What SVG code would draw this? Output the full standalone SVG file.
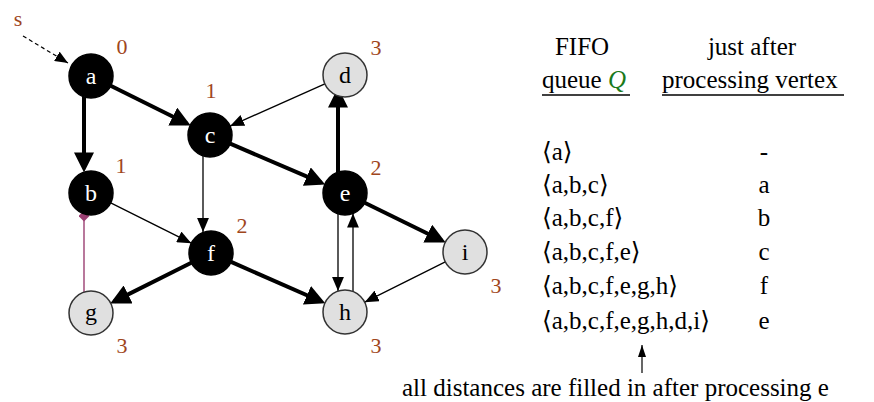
<svg xmlns="http://www.w3.org/2000/svg" width="874" height="402" viewBox="0 0 874 402">
<style>
.nb circle{fill:#000;stroke:#000;stroke-width:1.5}
.ng circle{fill:#e0e0e0;stroke:#333;stroke-width:1.5}
.nb text{fill:#fff;font-size:24px;text-anchor:middle}
.ng text{fill:#000;font-size:24px;text-anchor:middle}
.dist{fill:#a0461c;font-size:22px;text-anchor:middle}
.thick{stroke:#000;stroke-width:4;fill:none;marker-end:url(#ah)}
.thin{stroke:#000;stroke-width:1.3;fill:none;marker-end:url(#at)}
.tbl{font-size:25px;fill:#000}
</style>
<defs>
<marker id="ah" markerUnits="userSpaceOnUse" markerWidth="20" markerHeight="20" viewBox="0 0 18 18" refX="14" refY="9" orient="auto"><path d="M0,0 L18,9 L0,18 z" fill="#000"/></marker>
<marker id="at" markerUnits="userSpaceOnUse" markerWidth="14" markerHeight="12" viewBox="0 0 13 11" refX="13" refY="5.5" orient="auto"><path d="M0,0 L13,5.5 L0,11 z" fill="#000"/></marker>
<marker id="as" markerUnits="userSpaceOnUse" markerWidth="13" markerHeight="11" viewBox="0 0 12 10" refX="12" refY="5" orient="auto"><path d="M0,0 L12,5 L0,10 z" fill="#000"/></marker>
<marker id="dm" markerUnits="userSpaceOnUse" markerWidth="11" markerHeight="11" viewBox="0 0 10 10" refX="5" refY="5" orient="auto"><path d="M5,0 L10,5 L5,10 L0,5 z" fill="#9b3f72"/></marker>
<marker id="au" markerUnits="userSpaceOnUse" markerWidth="12" markerHeight="8" viewBox="0 0 12 8" refX="12" refY="4" orient="auto"><path d="M0,0 L12,4 L0,8 z" fill="#000"/></marker>
</defs>

<g id="connectors">
<line x1="23" y1="36" x2="68" y2="63" stroke="#000" stroke-width="1.2" stroke-dasharray="4,3" marker-end="url(#as)"/>
<line class="thick" x1="110.7" y1="85.8" x2="186.7" y2="123.5"/>
<line class="thick" x1="84" y1="97" x2="84" y2="168"/>
<line class="thick" x1="230.2" y1="143.7" x2="321.1" y2="182.7"/>
<line class="thick" x1="338" y1="172" x2="338" y2="92"/>
<line class="thick" x1="364.7" y1="202.7" x2="441.7" y2="240.5"/>
<line class="thick" x1="231.1" y1="261.9" x2="321.2" y2="301.5"/>
<line class="thick" x1="191.3" y1="262.8" x2="114.2" y2="301.4"/>
<line class="thin" x1="110.7" y1="202.8" x2="191.3" y2="243.2"/>
<line class="thin" x1="324.9" y1="83.9" x2="230.1" y2="126.1"/>
<line class="thin" x1="203" y1="156" x2="203" y2="232"/>
<line class="thin" x1="338" y1="214" x2="338" y2="291"/>
<line class="thin" x1="353" y1="291.5" x2="353" y2="213.5"/>
<line class="thin" x1="445.3" y1="261.8" x2="364.7" y2="302.2"/>
<line x1="84" y1="292" x2="84" y2="216" stroke="#9b3f72" stroke-width="1.4" marker-end="url(#dm)"/>
</g>

<g font-family="Liberation Serif, Times New Roman, DejaVu Serif, serif">
<text x="18" y="26" class="dist">s</text>

<g id="node-a" class="nb"><circle cx="91" cy="76" r="22"/><text x="91" y="84">a</text></g>
<g id="node-b" class="nb"><circle cx="91" cy="193" r="22"/><text x="91" y="201">b</text></g>
<g id="node-c" class="nb"><circle cx="210" cy="135" r="22"/><text x="210" y="143">c</text></g>
<g id="node-d" class="ng"><circle cx="345" cy="75" r="22"/><text x="345" y="83">d</text></g>
<g id="node-e" class="nb"><circle cx="345" cy="193" r="22"/><text x="345" y="201">e</text></g>
<g id="node-f" class="nb"><circle cx="211" cy="253" r="22"/><text x="211" y="261">f</text></g>
<g id="node-g" class="ng"><circle cx="91" cy="313" r="22"/><text x="91" y="320">g</text></g>
<g id="node-h" class="ng"><circle cx="345" cy="312" r="22"/><text x="345" y="320">h</text></g>
<g id="node-i" class="ng"><circle cx="465" cy="252" r="22"/><text x="465" y="260">i</text></g>

<g id="distances">
<text x="122" y="54" class="dist">0</text>
<text x="211" y="98" class="dist">1</text>
<text x="121" y="173" class="dist">1</text>
<text x="242" y="233" class="dist">2</text>
<text x="122" y="353" class="dist">3</text>
<text x="376" y="55" class="dist">3</text>
<text x="376" y="175" class="dist">2</text>
<text x="496" y="293" class="dist">3</text>
<text x="376" y="353" class="dist">3</text>
</g>

<g id="table">
<text x="582" y="55" class="tbl" text-anchor="middle">FIFO</text>
<text x="752" y="55" class="tbl" text-anchor="middle">just after</text>
<text x="542" y="88" class="tbl">queue <tspan fill="#1a7a1a" font-style="italic">Q</tspan></text>
<line x1="542" y1="95" x2="630" y2="95" stroke="#000" stroke-width="1.3"/>
<text x="662" y="88" class="tbl">processing vertex</text>
<line x1="662" y1="95" x2="844" y2="95" stroke="#000" stroke-width="1.3"/>
<text x="542" y="160" class="tbl">⟨a⟩</text>
<text x="542" y="193" class="tbl">⟨a,b,c⟩</text>
<text x="542" y="226" class="tbl">⟨a,b,c,f⟩</text>
<text x="542" y="260" class="tbl">⟨a,b,c,f,e⟩</text>
<text x="542" y="294" class="tbl">⟨a,b,c,f,e,g,h⟩</text>
<text x="542" y="329" class="tbl">⟨a,b,c,f,e,g,h,d,i⟩</text>
<text x="764" y="160" class="tbl" text-anchor="middle">-</text>
<text x="764" y="193" class="tbl" text-anchor="middle">a</text>
<text x="764" y="226" class="tbl" text-anchor="middle">b</text>
<text x="764" y="260" class="tbl" text-anchor="middle">c</text>
<text x="764" y="294" class="tbl" text-anchor="middle">f</text>
<text x="764" y="329" class="tbl" text-anchor="middle">e</text>
<line x1="642" y1="373" x2="642" y2="345" stroke="#000" stroke-width="1.2" marker-end="url(#au)"/>
<text x="402" y="396" class="tbl">all distances are filled in after processing e</text>
</g>
</g>
</svg>
